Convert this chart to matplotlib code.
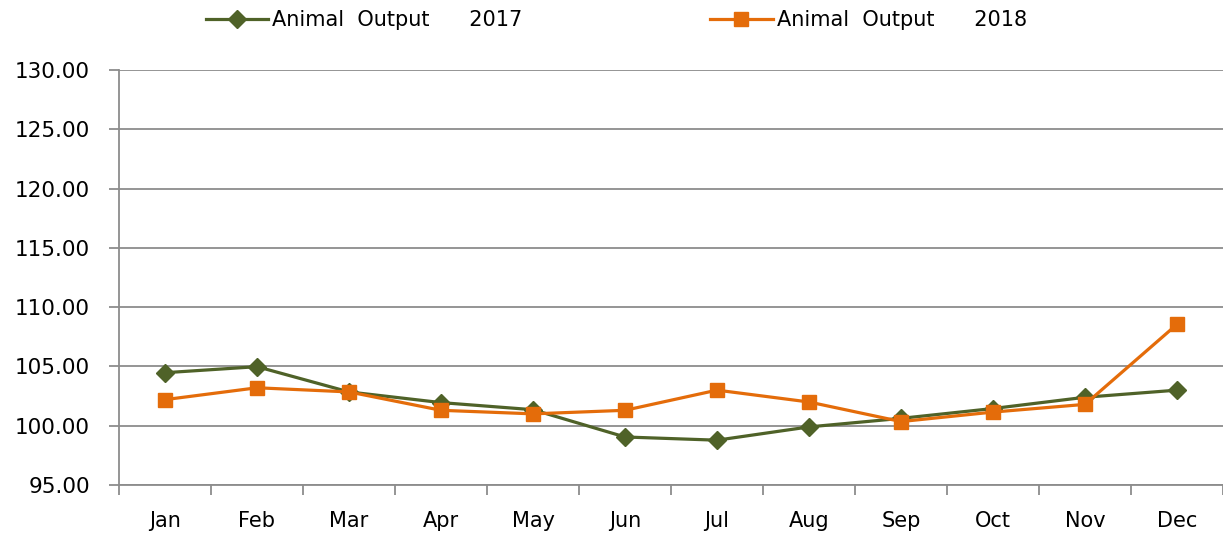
import matplotlib
matplotlib.use("Agg")
import matplotlib.pyplot as plt

months = ["Jan", "Feb", "Mar", "Apr", "May", "Jun", "Jul", "Aug", "Sep", "Oct", "Nov", "Dec"]
output_2017 = [104.47, 104.98, 102.85, 101.95, 101.35, 99.05, 98.78, 99.9, 100.62, 101.45, 102.4, 103.0]
output_2018 = [102.2, 103.2, 102.85, 101.3, 101.0, 101.3, 103.0, 102.0, 100.35, 101.15, 101.8, 108.55]
label_2017 = "Animal  Output      2017"
label_2018 = "Animal  Output      2018"
yticks = [95, 100, 105, 110, 115, 120, 125, 130]

plt.rcParams['font.family'] = ['DejaVu Sans']

fig = plt.figure(figsize=(12.23, 5.38), dpi=100)
ax = fig.add_axes([119/1223, 1 - 485/538, 1 - 119/1223, (485 - 70)/538])

x = list(range(len(months)))
green = "#4F6228"
orange = "#E46C0A"
l1, = ax.plot(x, output_2017, color=green, lw=2.3, marker="D", ms=9, label=label_2017, zorder=3)
l2, = ax.plot(x, output_2018, color=orange, lw=2.3, marker="s", ms=10.5, label=label_2018, zorder=4)

ax.set_xlim(-0.5, 11.5)
ax.set_ylim(95, 130)
ax.set_yticks(yticks)
ax.set_yticklabels([f"{v:.2f}" for v in yticks])
ax.yaxis.grid(True, color="#8C8C8C", lw=1.3)
ax.set_axisbelow(True)
ax.set_xticks(x)
ax.set_xticklabels(months)
ax.set_xticks([i - 0.5 for i in range(13)], minor=True)
ax.tick_params(axis="x", which="major", length=0, pad=19, labelsize=15)
ax.tick_params(axis="x", which="minor", length=7, width=1.3, color="#8C8C8C")
ax.tick_params(axis="y", length=7, width=1.3, color="#8C8C8C", pad=14, labelsize=15.5)
for s in ["top", "right"]:
    ax.spines[s].set_visible(False)
for s in ["left", "bottom"]:
    ax.spines[s].set_color("#8C8C8C")
    ax.spines[s].set_linewidth(1.3)

fig.legend(handles=[l1, l2], loc="center", bbox_to_anchor=(0.504, 1 - 20/538), ncol=2,
           frameon=False, fontsize=15, handlelength=3.0, handletextpad=0.2, columnspacing=9.0)

fig.savefig("out.png", dpi=100)
